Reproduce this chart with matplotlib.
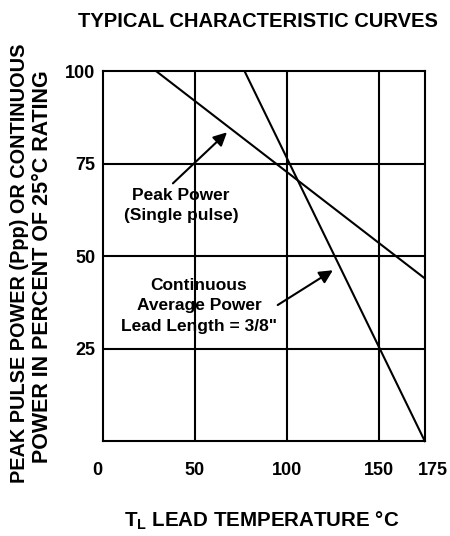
import matplotlib
matplotlib.use("Agg")
import matplotlib.pyplot as plt
from matplotlib.transforms import ScaledTranslation

# Data
temps_peak = [29, 175]
power_peak = [100, 44]
temps_cont = [77, 175]
power_cont = [100, 0]
x_ticks = [0, 50, 100, 150, 175]
y_ticks = [25, 50, 75, 100]
x_grid = [50, 100, 150]
y_grid = [25, 50, 75]

plt.rcParams['font.family'] = ['Liberation Sans', 'DejaVu Sans']
plt.rcParams['font.weight'] = 'bold'
plt.rcParams['mathtext.default'] = 'regular'

fig = plt.figure(figsize=(4.5, 5.36), dpi=100)
ax = fig.add_axes([0.229, 0.177, 0.715, 0.69])
ax.set_xlim(0, 175)
ax.set_ylim(0, 100)

for g in x_grid:
    ax.axvline(g, color='black', lw=1.5)
for g in y_grid:
    ax.axhline(g, color='black', lw=1.5)

ax.plot(temps_peak, power_peak, color='black', lw=1.5, clip_on=False)
ax.plot(temps_cont, power_cont, color='black', lw=1.5, clip_on=False)

for s in ax.spines.values():
    s.set_linewidth(1.5)

ax.set_xticks(x_ticks)
ax.set_xticklabels([str(t) for t in x_ticks], fontsize=13, fontweight='bold')
ax.set_yticks(y_ticks)
ax.set_yticklabels([str(t) for t in y_ticks], fontsize=13, fontweight='bold')
ax.tick_params(axis='y', length=0, pad=5.5)
ax.tick_params(axis='x', length=0, pad=15)

# small horizontal nudges of end labels as in the reference
xl = ax.get_xticklabels()
xl[0].set_transform(xl[0].get_transform() + ScaledTranslation(-6 / 100, 0, fig.dpi_scale_trans))
xl[-1].set_transform(xl[-1].get_transform() + ScaledTranslation(8 / 100, 0, fig.dpi_scale_trans))

fig.text(262 / 450, 1 - 527 / 536, 'T$_\\mathregular{L}$ LEAD TEMPERATURE °C', ha='center',
         va='baseline', fontsize=14.8, fontweight='bold')
fig.text(19.5 / 450, 1 - 263.5 / 536, 'PEAK PULSE POWER (Ppp) OR CONTINUOUS',
         rotation=90, ha='center', va='center', fontsize=14.3, fontweight='bold')
fig.text(43 / 450, 1 - 266.5 / 536, 'POWER IN PERCENT OF 25°C RATING',
         rotation=90, ha='center', va='center', fontsize=15.5, fontweight='bold')

fig.text(257.5 / 450, 1 - 27 / 536, 'TYPICAL CHARACTERISTIC CURVES', ha='center',
         va='baseline', fontsize=14.5, fontweight='bold')

arrow = dict(arrowstyle='-|>', color='black', lw=1.5, mutation_scale=20, shrinkA=0, shrinkB=0)
ax.annotate('', xy=(67.4, 83.5), xytext=(38, 69.7), arrowprops=arrow)
ax.text(42.4, 63.8, 'Peak Power\n(Single pulse)', ha='center', va='center',
        fontsize=12.5, fontweight='bold', linespacing=1.4)
ax.annotate('', xy=(125, 46.2), xytext=(95, 36.8), arrowprops=arrow)
ax.text(52.2, 36.6, 'Continuous\nAverage Power\nLead Length = 3/8"', ha='center', va='center',
        fontsize=12.5, fontweight='bold', linespacing=1.45)

fig.savefig('out.png', dpi=100, facecolor='white')
